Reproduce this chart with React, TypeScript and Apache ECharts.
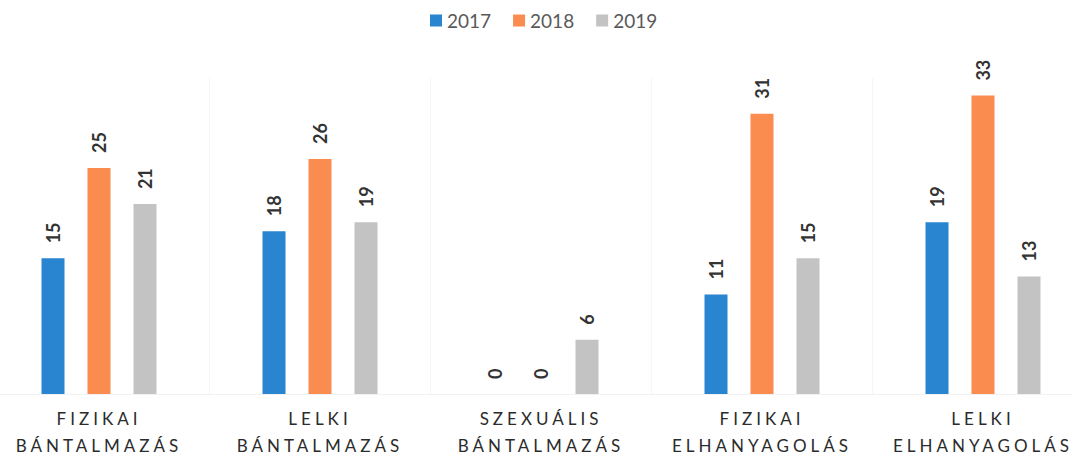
import React, { useEffect, useRef } from "react";
import * as echarts from "echarts";

const categories = [
  "FIZIKAI\nBÁNTALMAZÁS",
  "LELKI\nBÁNTALMAZÁS",
  "SZEXUÁLIS\nBÁNTALMAZÁS",
  "FIZIKAI\nELHANYAGOLÁS",
  "LELKI\nELHANYAGOLÁS",
];
const seriesNames = ["2017", "2018", "2019"];
const values2017 = [15, 18, 0, 11, 19];
const values2018 = [25, 26, 0, 31, 33];
const values2019 = [21, 19, 6, 15, 13];
const colors = ["#2a85d0", "#fb8c4f", "#c3c3c3"];

const css = `.cat-chart text[style*="Carlito"]{letter-spacing:4px;}`;

export default function App() {
  const ref = useRef<HTMLDivElement>(null);
  useEffect(() => {
    if (!ref.current) return;
    const chart = echarts.init(ref.current, undefined, { renderer: "svg" });
    const data = [values2017, values2018, values2019];
    chart.setOption({
      animation: false,
      textStyle: { fontFamily: "Lato" },
      legend: {
        top: 6,
        left: 437,
        itemWidth: 12,
        itemHeight: 12,
        itemGap: 22,
        icon: "rect",
        textStyle: { fontSize: 19, color: "#595959", fontFamily: "Lato" },
        data: seriesNames,
      },
      grid: { left: 0.5, right: 0.5, top: 77.5, bottom: 63, containLabel: false },
      xAxis: {
        type: "category",
        data: categories,
        axisTick: { show: false },
        axisLine: { show: true, lineStyle: { color: "#f2f2f2" } },
        splitLine: { show: true, lineStyle: { color: "#f6f6f6" } },
        axisLabel: {
          interval: 0,
          margin: 11,
          fontSize: 17,
          lineHeight: 27,
          color: "#2b2b2b",
          fontFamily: "Lato, Carlito, sans-serif",
        },
      },
      yAxis: {
        type: "value",
        min: 0,
        max: 35,
        show: false,
        splitLine: { show: false },
      },
      series: seriesNames.map((name, i) => ({
        name,
        type: "bar",
        data: data[i],
        barWidth: 23,
        barGap: "100%",
        itemStyle: { color: colors[i] },
        label: {
          show: true,
          position: "top",
          rotate: 90,
          align: "left",
          verticalAlign: "middle",
          distance: 15,
          fontSize: 18,
          fontWeight: "bold",
          color: "#333",
          fontFamily: "Lato",
        },
      })),
    });
    return () => chart.dispose();
  }, []);
  return (
    <div
      style={{
        position: "absolute",
        left: 0,
        top: 0,
        width: 1072,
        height: 459,
        overflow: "hidden",
        background: "#fff",
      }}
    >
      <style>{css}</style>
      <div
        ref={ref}
        className="cat-chart"
        style={{ position: "absolute", left: -12, top: 0, width: 1106, height: 459 }}
      />
    </div>
  );
}
